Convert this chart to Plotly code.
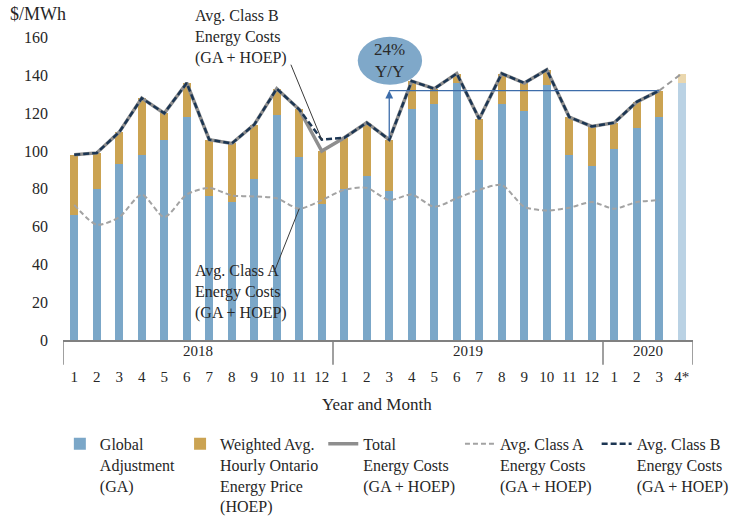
import plotly.graph_objects as go

# Monthly energy cost data, $/MWh
years = ["2018", "2019", "2020"]
months = ["1", "2", "3", "4", "5", "6", "7", "8", "9", "10", "11", "12",
          "1", "2", "3", "4", "5", "6", "7", "8", "9", "10", "11", "12",
          "1", "2", "3", "4*"]
ga = [66, 80, 93, 98, 106, 118, 76, 73, 85, 119, 97, 72,
      80, 87, 79, 122, 125, 136, 95, 125, 121, 135, 98, 92,
      101, 112, 118, 136]
hoep = [32, 19, 17, 30, 14, 18, 30, 31, 29, 14, 25, 28,
        27, 28, 27, 15, 8, 5, 22, 16, 15, 8, 20, 21,
        14, 14, 14, 5]
class_a = [71.5, 61, 65, 77, 65, 77, 80.5, 76.5, 76, 75, 69.5, 74,
           79.5, 80.5, 74, 77, 70.5, 75, 79.5, 82, 70.5, 68.5, 70, 73,
           69.5, 73, 74]
class_b = [98, 99, 110, 128, 120, 136, 106, 104, 114, 133, 122, 106,
           107, 115, 106, 137, 133, 141, 117, 141, 136, 143, 118, 113,
           115, 126, 132]
yoy_label = "24%<br>Y/Y"

total = [g + h for g, h in zip(ga, hoep)]
n = len(months)
x = list(range(n))
n_actual = len(class_b)  # last month is a forecast

FONT = "Liberation Serif"
TXT = "#262626"
GA_C, GA_LIGHT = "#7BA7C8", "#BAD2E4"
HO_C, HO_LIGHT = "#CBA352", "#EAD7AE"

fig = go.Figure()
fig.add_trace(go.Bar(
    x=x, y=ga, width=0.36, name="Global<br>Adjustment<br>(GA)",
    marker=dict(color=[GA_C] * n_actual + [GA_LIGHT] * (n - n_actual), line_width=0)))
fig.add_trace(go.Bar(
    x=x, y=hoep, width=0.36, name="Weighted Avg.<br>Hourly Ontario<br>Energy Price<br>(HOEP)",
    marker=dict(color=[HO_C] * n_actual + [HO_LIGHT] * (n - n_actual), line_width=0)))
fig.add_trace(go.Scatter(
    x=x[:n_actual], y=total[:n_actual], mode="lines", name="Total<br>Energy Costs<br>(GA + HOEP)",
    line=dict(color="#8E8E8E", width=3.5)))
fig.add_trace(go.Scatter(
    x=x[:len(class_a)], y=class_a, mode="lines", name="Avg. Class A<br>Energy Costs<br>(GA + HOEP)",
    line=dict(color="#A3A3A3", width=2, dash="5px,3px", shape="spline", smoothing=0.7)))
fig.add_trace(go.Scatter(
    x=x[:n_actual], y=class_b, mode="lines", name="Avg. Class B<br>Energy Costs<br>(GA + HOEP)",
    line=dict(color="#1C3653", width=2.5, dash="6px,3px")))
# forecast segment
fig.add_trace(go.Scatter(
    x=x[n_actual - 1:], y=total[n_actual - 1:], mode="lines", showlegend=False,
    line=dict(color="#9A9A9A", width=2, dash="6px,4px")))

shapes = []
annotations = []

# year brackets under the axis
bounds = [-0.5, 11.5, 23.5, 27.5]
for b in bounds:
    shapes.append(dict(type="line", xref="x", yref="paper", x0=b, x1=b, y0=0, y1=-0.08,
                       line=dict(color="#808080", width=1.5)))
for i, yr in enumerate(years):
    annotations.append(dict(x=(bounds[i] + bounds[i + 1]) / 2, y=-0.036, xref="x", yref="paper",
                            text=yr, showarrow=False, yanchor="middle",
                            font=dict(family=FONT, size=15, color=TXT)))
annotations.append(dict(x=0.498, y=-0.211, xref="paper", yref="paper", text="Year and Month",
                        showarrow=False, yanchor="middle", font=dict(family=FONT, size=17, color=TXT)))
annotations.append(dict(x=-0.088, y=1.057, xref="paper", yref="paper", text="$/MWh",
                        showarrow=False, xanchor="left", yanchor="middle",
                        font=dict(family=FONT, size=18, color=TXT)))

# year-over-year callout
base_i, end_i = 14, n_actual - 1
shapes.append(dict(type="line", xref="x", yref="y", x0=base_i, x1=end_i,
                   y0=total[end_i], y1=total[end_i], line=dict(color="#3D6DAA", width=1.3)))
annotations.append(dict(x=base_i, y=total[end_i], ax=base_i, ay=total[base_i], xref="x", yref="y",
                        axref="x", ayref="y", text="", showarrow=True, arrowhead=2, arrowsize=1.2,
                        arrowwidth=1.3, arrowcolor="#3D6DAA", standoff=0, startstandoff=0))
shapes.append(dict(type="circle", xref="x", yref="y", x0=12.6, x1=15.46, y0=135.1, y1=160.5,
                   fillcolor="#7FA8C9", line=dict(width=0), layer="above"))
annotations.append(dict(x=14.03, y=147.8, xref="x", yref="y", text=yoy_label, showarrow=False,
                        font=dict(family=FONT, size=17, color="#2A2A2A")))

# series call-out labels with leader lines
annotations.append(dict(x=0.206, y=1.087, xref="paper", yref="paper",
                        text="Avg. Class B<br>Energy Costs<br>(GA + HOEP)", showarrow=False,
                        xanchor="left", yanchor="top", align="left",
                        font=dict(family=FONT, size=16, color=TXT)))
shapes.append(dict(type="line", xref="x", yref="y", x0=9.63, y0=145.7, x1=11, y1=class_b[11],
                   line=dict(color="#3A3A3A", width=1)))
annotations.append(dict(x=0.206, y=0.26, xref="paper", yref="paper",
                        text="Avg. Class A<br>Energy Costs<br>(GA + HOEP)", showarrow=False,
                        xanchor="left", yanchor="top", align="left",
                        font=dict(family=FONT, size=16, color=TXT)))
shapes.append(dict(type="line", xref="x", yref="y", x0=8.92, y0=37.1, x1=10, y1=class_a[10],
                   line=dict(color="#3A3A3A", width=1)))

fig.update_layout(
    width=734, height=519,
    margin=dict(l=63, r=41, t=32, b=179, autoexpand=False),
    paper_bgcolor="white", plot_bgcolor="white",
    barmode="stack",
    font=dict(family=FONT, size=15, color=TXT),
    shapes=shapes, annotations=annotations,
    legend=dict(orientation="h", x=-0.005, y=-0.282, xanchor="left", yanchor="top",
                valign="top", traceorder="normal", tracegroupgap=0,
                font=dict(family=FONT, size=16, color=TXT), itemwidth=30,
                bgcolor="rgba(0,0,0,0)"),
    xaxis=dict(range=[-0.5, n - 0.5], tickmode="array", tickvals=x, ticktext=months,
               showgrid=False, zeroline=False, showline=True, linecolor="#808080", linewidth=1.5,
               ticks="", ticklabelstandoff=22, tickfont=dict(family=FONT, size=15, color=TXT)),
    yaxis=dict(range=[0, 163], tickvals=list(range(0, 161, 20)), showgrid=False, zeroline=False,
               showline=False, ticks="", ticklabelstandoff=14,
               tickfont=dict(family=FONT, size=16, color=TXT)),
)

fig.write_html("out.html")
